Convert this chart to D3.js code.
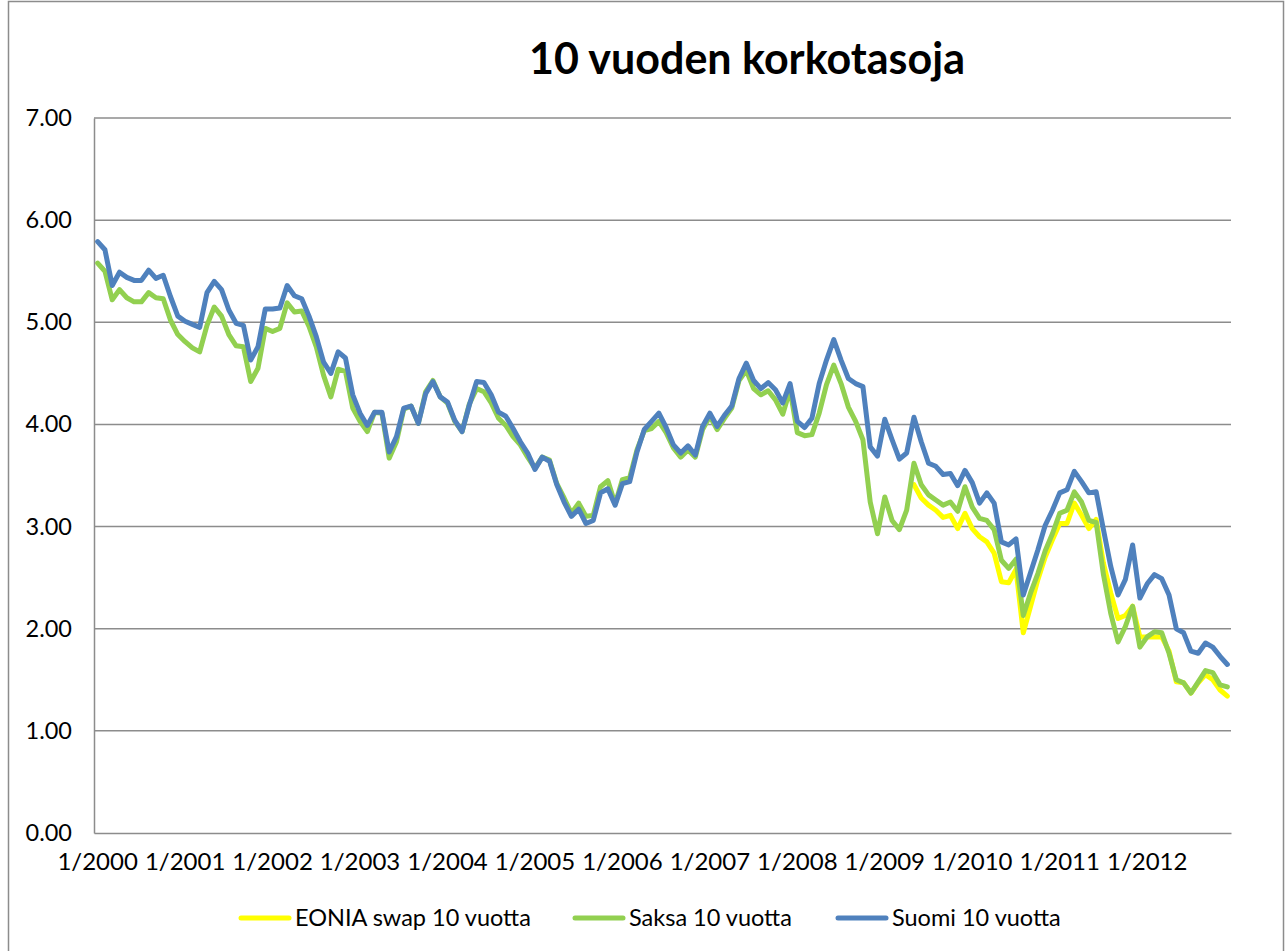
<!DOCTYPE html>
<html>
<head>
<meta charset="utf-8">
<script src="https://cdn.jsdelivr.net/npm/d3@7"></script>
<style>
  body { margin: 0; background: #fff; }
  svg { display: block; font-family: Lato, "Open Sans", sans-serif; }
</style>
</head>
<body>
<svg id="chart"></svg>
<script>
// monthly categories 1/2000 .. 12/2012
const months = d3.range(156).map(i => `${i % 12 + 1}/${2000 + Math.floor(i / 12)}`);
const tickLabels = ['1/2000', '1/2001', '1/2002', '1/2003', '1/2004', '1/2005', '1/2006',
                    '1/2007', '1/2008', '1/2009', '1/2010', '1/2011', '1/2012'];
const yTicks = [0, 1, 2, 3, 4, 5, 6, 7];

const seriesNames = ['EONIA swap 10 vuotta', 'Saksa 10 vuotta', 'Suomi 10 vuotta'];
const seriesColors = ['#ffff00', '#92d050', '#4f81bd'];

// EONIA swap only from 5/2009 onwards
const eonia = [
  3.41, 3.28, 3.21, 3.16, 3.09, 3.11, 2.98, 3.13, 2.98, 2.90, 2.85, 2.74,
  2.46, 2.45, 2.58, 1.96, 2.22, 2.48, 2.70, 2.87, 3.03, 3.03, 3.23, 3.11,
  2.98, 3.07, 2.64, 2.35, 2.10, 2.13, 2.22, 1.92, 1.92, 1.92, 1.92, 1.78,
  1.48, 1.47, 1.37, 1.47, 1.55, 1.50, 1.40, 1.34
];
const eoniaStart = 112;

const saksa = [
  5.58, 5.50, 5.22, 5.32, 5.24, 5.20, 5.20, 5.29, 5.24, 5.23, 5.02, 4.88,
  4.81, 4.75, 4.71, 4.97, 5.15, 5.06, 4.88, 4.77, 4.76, 4.42, 4.55, 4.94,
  4.91, 4.94, 5.19, 5.10, 5.11, 4.96, 4.76, 4.48, 4.27, 4.54, 4.52, 4.16,
  4.03, 3.93, 4.12, 4.11, 3.67, 3.83, 4.15, 4.18, 4.01, 4.32, 4.43, 4.27,
  4.21, 4.03, 3.93, 4.20, 4.35, 4.32, 4.21, 4.06, 3.99, 3.88, 3.80, 3.68,
  3.57, 3.68, 3.65, 3.42, 3.28, 3.13, 3.23, 3.10, 3.11, 3.39, 3.45, 3.22,
  3.46, 3.48, 3.75, 3.94, 3.96, 4.03, 3.92, 3.77, 3.68, 3.75, 3.68, 3.95,
  4.08, 3.95, 4.06, 4.16, 4.43, 4.53, 4.35, 4.29, 4.33, 4.24, 4.10, 4.34,
  3.92, 3.89, 3.90, 4.11, 4.39, 4.58, 4.40, 4.17, 4.03, 3.85, 3.24, 2.93,
  3.29, 3.06, 2.97, 3.16, 3.62, 3.41, 3.31, 3.26, 3.21, 3.24, 3.15, 3.39,
  3.19, 3.08, 3.06, 2.97, 2.67, 2.59, 2.68, 2.13, 2.35, 2.54, 2.76, 2.93,
  3.13, 3.16, 3.34, 3.24, 3.06, 3.04, 2.53, 2.15, 1.87, 2.02, 2.22, 1.82,
  1.92, 1.97, 1.96, 1.76, 1.50, 1.47, 1.37, 1.48, 1.59, 1.57, 1.45, 1.43
];

const suomi = [
  5.79, 5.71, 5.36, 5.49, 5.44, 5.41, 5.41, 5.51, 5.43, 5.46, 5.25, 5.06,
  5.01, 4.98, 4.95, 5.29, 5.40, 5.32, 5.12, 4.99, 4.97, 4.63, 4.76, 5.13,
  5.13, 5.14, 5.36, 5.26, 5.23, 5.06, 4.86, 4.61, 4.50, 4.71, 4.65, 4.29,
  4.11, 3.99, 4.12, 4.12, 3.73, 3.88, 4.16, 4.18, 4.01, 4.30, 4.42, 4.27,
  4.22, 4.04, 3.93, 4.19, 4.42, 4.41, 4.29, 4.12, 4.08, 3.96, 3.83, 3.72,
  3.56, 3.68, 3.64, 3.41, 3.24, 3.10, 3.17, 3.03, 3.06, 3.33, 3.37, 3.21,
  3.42, 3.44, 3.73, 3.95, 4.03, 4.11, 3.97, 3.80, 3.72, 3.79, 3.70, 3.98,
  4.11, 3.98, 4.09, 4.18, 4.45, 4.60, 4.43, 4.35, 4.41, 4.34, 4.21, 4.40,
  4.03, 3.97, 4.06, 4.40, 4.63, 4.83, 4.63, 4.45, 4.40, 4.37, 3.78, 3.69,
  4.05, 3.85, 3.66, 3.72, 4.07, 3.83, 3.62, 3.59, 3.51, 3.52, 3.40, 3.55,
  3.43, 3.23, 3.33, 3.23, 2.85, 2.82, 2.88, 2.33, 2.55, 2.77, 3.01, 3.16,
  3.33, 3.36, 3.54, 3.44, 3.33, 3.34, 2.97, 2.61, 2.33, 2.48, 2.82, 2.30,
  2.44, 2.53, 2.49, 2.33, 2.00, 1.96, 1.78, 1.76, 1.86, 1.82, 1.73, 1.65
];

const width = 1288, height = 951;
const margin = { top: 118, right: 57, bottom: 118, left: 94 };

const svg = d3.select('#chart')
    .attr('width', width)
    .attr('height', height);

// chart frame
svg.append('rect')
    .attr('x', 8.5).attr('y', 1.5)
    .attr('width', 1275).attr('height', 1000)
    .attr('fill', 'none')
    .attr('stroke', '#8c8c8c')
    .attr('stroke-width', 1.5);

svg.append('text')
    .attr('x', 747).attr('y', 74)
    .attr('text-anchor', 'middle')
    .attr('font-size', 43)
    .attr('font-weight', 'bold')
    .attr('fill', '#000')
    .text('10 vuoden korkotasoja');

const x = d3.scaleBand()
    .domain(months)
    .range([margin.left, width - margin.right])
    .padding(0);

const y = d3.scaleLinear()
    .domain([0, 7])
    .range([height - margin.bottom, margin.top]);

const cx = m => x(m) + x.bandwidth() / 2;

// gridlines
svg.append('g')
    .selectAll('line')
    .data(yTicks.filter(d => d > 0))
    .join('line')
    .attr('x1', margin.left).attr('x2', width - margin.right)
    .attr('y1', d => y(d)).attr('y2', d => y(d))
    .attr('stroke', '#8c8c8c')
    .attr('stroke-width', 1.5);

const yAxis = d3.axisLeft(y)
    .tickValues(yTicks)
    .tickFormat(d3.format('.2f'))
    .tickSize(0)
    .tickPadding(22);

const yAxisG = svg.append('g')
    .attr('transform', `translate(${margin.left},0)`)
    .call(yAxis);
yAxisG.select('.domain').attr('stroke', '#8c8c8c').attr('stroke-width', 1.5);
yAxisG.selectAll('text').attr('font-size', 23.5).attr('fill', '#000').attr('font-family', 'Lato');

const xAxis = d3.axisBottom(x)
    .tickValues(tickLabels)
    .tickSize(0)
    .tickSizeOuter(0)
    .tickPadding(20);

const xAxisG = svg.append('g')
    .attr('transform', `translate(0,${height - margin.bottom})`)
    .call(xAxis);
xAxisG.select('.domain').attr('stroke', '#8c8c8c').attr('stroke-width', 1.5);
xAxisG.selectAll('text').attr('font-size', 24).attr('fill', '#000').attr('font-family', 'Lato');

const series = [
    months.map((m, i) => ({ m, v: i >= eoniaStart ? eonia[i - eoniaStart] : null })),
    months.map((m, i) => ({ m, v: saksa[i] })),
    months.map((m, i) => ({ m, v: suomi[i] }))
];

const line = d3.line()
    .defined(d => d.v != null)
    .x(d => cx(d.m))
    .y(d => y(d.v));

svg.append('g')
    .selectAll('path')
    .data(series)
    .join('path')
    .attr('d', line)
    .attr('fill', 'none')
    .attr('stroke', (d, i) => seriesColors[i])
    .attr('stroke-width', 5)
    .attr('stroke-linejoin', 'round')
    .attr('stroke-linecap', 'round');

// legend
const legendX = [241, 575, 838];
const legend = svg.append('g')
    .selectAll('g')
    .data(seriesNames)
    .join('g')
    .attr('transform', (d, i) => `translate(${legendX[i]},918)`);

legend.append('line')
    .attr('x1', 0).attr('x2', 48)
    .attr('stroke', (d, i) => seriesColors[i])
    .attr('stroke-width', 5)
    .attr('stroke-linecap', 'round');

legend.append('text')
    .attr('x', 54).attr('dy', '0.35em')
    .attr('font-size', 23.5)
    .attr('fill', '#000')
    .text(d => d);
</script>
</body>
</html>
